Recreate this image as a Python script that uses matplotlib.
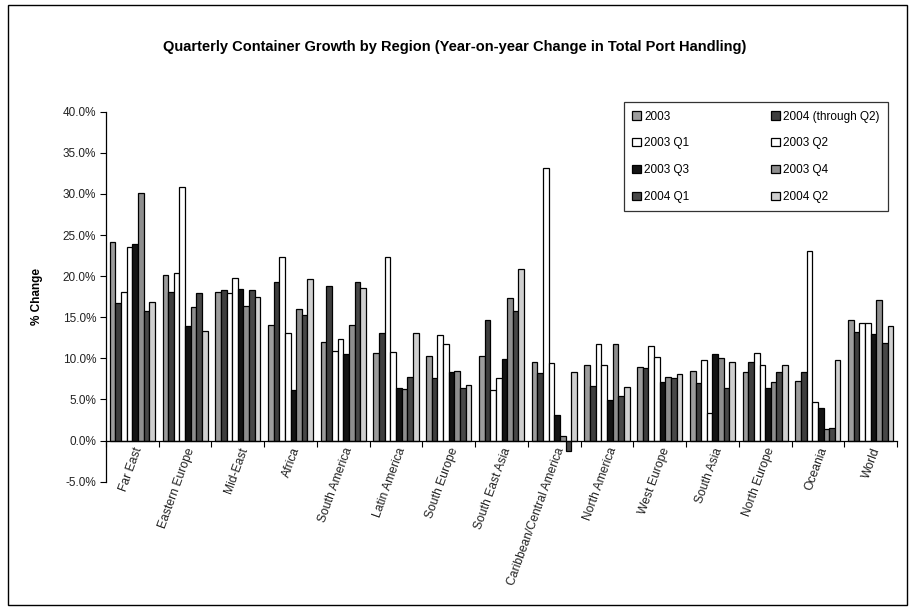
import matplotlib
matplotlib.use("Agg")
import matplotlib.pyplot as plt
from matplotlib.patches import Rectangle
import numpy as np

plt.rcParams['font.family'] = ['Liberation Sans', 'DejaVu Sans']

regions = ["Far East", "Eastern Europe", "Mid-East", "Africa", "South America",
           "Latin America", "South Europe", "South East Asia",
           "Caribbean/Central America", "North America", "West Europe",
           "South Asia", "North Europe", "Oceania", "World"]

series_names = ["2003", "2004 (through Q2)", "2003 Q1", "2003 Q2",
                "2003 Q3", "2003 Q4", "2004 Q1", "2004 Q2"]

# Year-on-year change in total port handling, percent
y2003     = [24.1, 20.1, 18.1, 14.1, 12.0, 10.6, 10.3, 10.3,  9.6, 9.2, 9.0,  8.5, 8.3, 7.3, 14.7]
y2004_h1  = [16.7, 18.1, 18.3, 19.3, 18.8, 13.1,  7.6, 14.7,  8.2, 6.6, 8.8,  7.0, 9.6, 8.4, 13.2]
q1_2003   = [18.1, 20.4, 18.0, 22.3, 10.9, 22.3, 12.8,  6.2, 33.2,11.7,11.5,  9.8,10.7,23.1, 14.3]
q2_2003   = [23.6, 30.9, 19.8, 13.1, 12.4, 10.8, 11.8,  7.6,  9.4, 9.2,10.2,  3.4, 9.2, 4.7, 14.3]
q3_2003   = [23.9, 13.9, 18.4,  6.1, 10.5,  6.4,  8.4,  9.9,  3.1, 4.9, 7.1, 10.5, 6.4, 4.0, 13.0]
q4_2003   = [30.1, 16.3, 16.4, 16.0, 14.0,  6.3,  8.5, 17.3,  0.5,11.8, 7.7, 10.1, 7.1, 1.4, 17.1]
q1_2004   = [15.8, 18.0, 18.3, 15.3, 19.3,  7.7,  6.4, 15.7, -1.3, 5.4, 7.6,  6.4, 8.4, 1.5, 11.9]
q2_2004   = [16.8, 13.3, 17.5, 19.6, 18.6, 13.1,  6.8, 20.9,  8.3, 6.5, 8.1,  9.6, 9.2, 9.8, 13.9]

y_ticks = [-5, 0, 5, 10, 15, 20, 25, 30, 35, 40]

series = [y2003, y2004_h1, q1_2003, q2_2003, q3_2003, q4_2003, q1_2004, q2_2004]
fills = ["#9c9c9c", "#3e3e3e", "#ffffff", "#ffffff",
         "#141414", "#8e8e8e", "#484848", "#cfcfcf"]

fig = plt.figure(figsize=(9.10, 6.08), dpi=100)
ax = fig.add_axes([106 / 910, 1 - 481.7 / 608, (897 - 106) / 910, (481.7 - 111.7) / 608])

n = len(series)
width = 0.107
x = np.arange(len(regions)) + 0.5
bars = []
for j, (vals, fc) in enumerate(zip(series, fills)):
    b = ax.bar(x + (j - (n - 1) / 2) * width, vals, width=width,
               color=fc, edgecolor="black", linewidth=0.9, label=series_names[j])
    bars.append(b)

ax.set_xlim(0, len(regions))
ax.set_ylim(-5, 40)

# y axis
ax.set_yticks(y_ticks)
ax.set_yticklabels([f"{v:.1f}%" for v in y_ticks], fontsize=8.5, color="#222222")
ax.tick_params(axis="y", direction="out", length=4, width=0.8, pad=3)

# category axis crossing at zero, ticks between categories
ax.spines["top"].set_visible(False)
ax.spines["right"].set_visible(False)
ax.spines["bottom"].set_position(("data", 0))
ax.spines["bottom"].set_linewidth(0.9)
ax.spines["left"].set_linewidth(0.9)
ax.set_xticks(np.arange(len(regions) + 1), minor=True)
ax.tick_params(axis="x", which="minor", direction="out", length=4, width=0.8)
ax.set_xticks(x)
ax.set_xticklabels([])
ax.tick_params(axis="x", which="major", length=0)
for xi, name in zip(x, regions):
    ax.text(xi + 0.12, -0.9, name, rotation=70, rotation_mode="anchor",
            ha="right", va="center", fontsize=8.7, color="#222222",
            transform=ax.transData, clip_on=False)

ax.set_ylabel("% Change", fontsize=8.5, fontweight="bold")
ax.yaxis.set_label_coords(-0.08, 0.5)

fig.text(0.5, 1 - 47 / 608,
         "Quarterly Container Growth by Region (Year-on-year Change in Total Port Handling)",
         ha="center", va="center", fontsize=10.5, fontweight="bold",
         family=["Liberation Sans Narrow", "Liberation Sans"])

# legend laid out row-wise in two columns
order = [0, 2, 4, 6, 1, 3, 5, 7]
leg = ax.legend([bars[i] for i in order], [series_names[i] for i in order],
                ncol=2, loc="upper left",
                bbox_to_anchor=(624 / 910, 1 - 103 / 608, (888 - 624) / 910, 0.001),
                bbox_transform=fig.transFigure, mode="expand",
                fontsize=8.5, frameon=True, fancybox=False, shadow=False,
                handlelength=0.7, handleheight=0.7, handletextpad=0.3,
                labelspacing=1.25, borderpad=0.7, borderaxespad=0)
leg.get_frame().set_edgecolor("black")
leg.get_frame().set_linewidth(0.9)

# outer frame of the chart area
fig.patches.append(Rectangle((8 / 910, 3 / 608), 899 / 910, 600 / 608,
                             transform=fig.transFigure, fill=False,
                             edgecolor="black", linewidth=1.0))

fig.savefig("out.png", dpi=100)
